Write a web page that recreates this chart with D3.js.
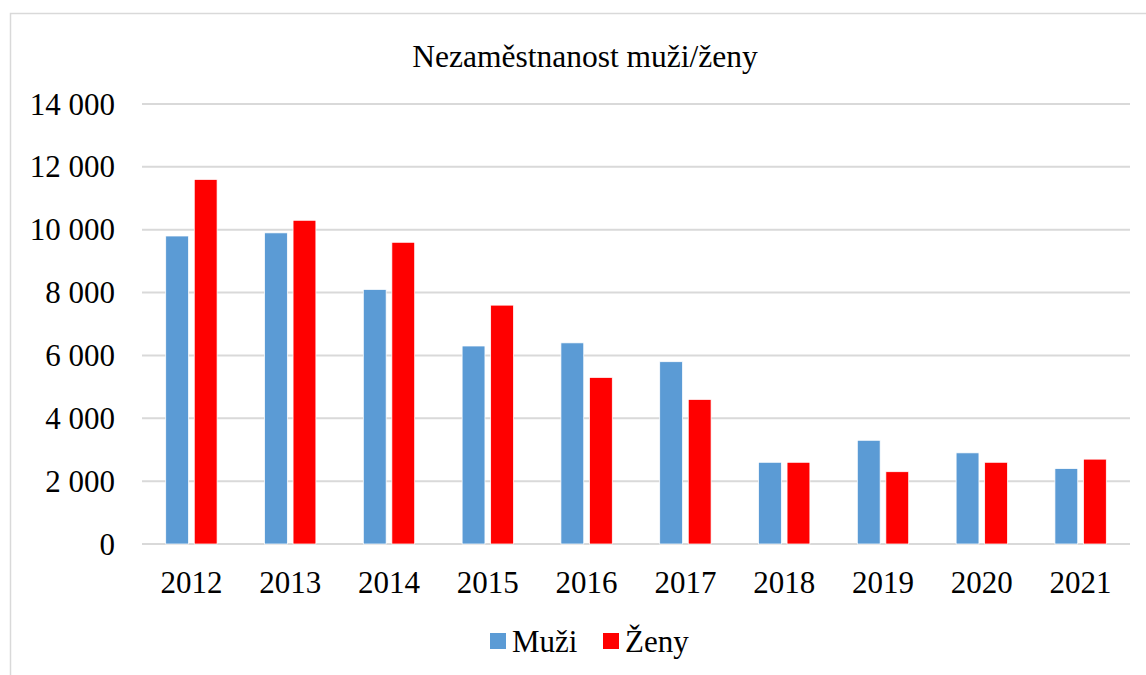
<!DOCTYPE html>
<html>
<head>
<meta charset="utf-8">
<script src="https://cdn.jsdelivr.net/npm/d3@7"></script>
<style>
  body { margin: 0; background: #fff; }
  svg text { font-family: "Liberation Serif", "Times New Roman", serif; fill: #000; }
</style>
</head>
<body>
<div id="chart"></div>
<script>
var years = ["2012", "2013", "2014", "2015", "2016", "2017", "2018", "2019", "2020", "2021"],
    muzi = [9800, 9900, 8100, 6300, 6400, 5800, 2600, 3300, 2900, 2400],
    zeny = [11600, 10300, 9600, 7600, 5300, 4600, 2600, 2300, 2600, 2700],
    seriesNames = ["Muži", "Ženy"],
    seriesColors = ["#5B9BD5", "#FF0000"],
    yTicks = [0, 2000, 4000, 6000, 8000, 10000, 12000, 14000];

var W = 1146, H = 675;
var plot = { left: 142, right: 1130, top: 104, bottom: 544 };

var svg = d3.select("#chart").append("svg")
    .attr("width", W)
    .attr("height", H);

// chart frame
svg.append("rect")
    .attr("x", 10.5).attr("y", 13.5)
    .attr("width", W + 10).attr("height", H + 10)
    .attr("fill", "#fff")
    .attr("stroke", "#d9d9d9")
    .attr("stroke-width", 1.5);

var y = d3.scaleLinear().domain([0, 14000]).range([plot.bottom, plot.top]);

var x0 = d3.scaleBand().domain(years)
    .range([plot.left, plot.right])
    .paddingInner(0.48).paddingOuter(0.24);

var x1 = d3.scaleBand().domain(seriesNames)
    .range([0, x0.bandwidth()])
    .paddingInner(0.2);

// czech style thousands: "14 000"
var fmt = d3.formatLocale({ decimal: ",", thousands: " ", grouping: [3], currency: ["", " Kč"] }).format(",d");

// gridlines
svg.append("g").selectAll("line")
    .data(yTicks)
    .enter().append("line")
      .attr("x1", plot.left).attr("x2", plot.right)
      .attr("y1", function(d) { return y(d); })
      .attr("y2", function(d) { return y(d); })
      .attr("stroke", "#d9d9d9")
      .attr("stroke-width", 2);

// y labels
svg.append("g").selectAll("text")
    .data(yTicks)
    .enter().append("text")
      .attr("x", 115)
      .attr("y", function(d) { return y(d); })
      .attr("dy", "0.34em")
      .style("text-anchor", "end")
      .style("font-size", "31px")
      .text(function(d) { return fmt(d); });

// bars
var rows = years.map(function(yr, i) { return { year: yr, vals: [muzi[i], zeny[i]] }; });

var groups = svg.append("g").selectAll("g")
    .data(rows)
    .enter().append("g")
      .attr("transform", function(d) { return "translate(" + x0(d.year) + ",0)"; });

groups.selectAll("rect")
    .data(function(d) { return d.vals.map(function(v, j) { return { name: seriesNames[j], value: v, color: seriesColors[j] }; }); })
    .enter().append("rect")
      .attr("x", function(d) { return x1(d.name); })
      .attr("y", function(d) { return y(d.value); })
      .attr("width", x1.bandwidth())
      .attr("height", function(d) { return y(0) - y(d.value); })
      .attr("fill", function(d) { return d.color; })
      .attr("stroke", "#fff")
      .attr("stroke-width", 0.75);

// x labels
svg.append("g").selectAll("text")
    .data(years)
    .enter().append("text")
      .attr("x", function(d) { return x0(d) + x0.bandwidth() / 2; })
      .attr("y", 593)
      .style("text-anchor", "middle")
      .style("font-size", "31px")
      .text(function(d) { return d; });

// title
svg.append("text")
    .attr("x", 585).attr("y", 67)
    .style("text-anchor", "middle")
    .style("font-size", "31.5px")
    .text("Nezaměstnanost muži/ženy");

// legend
var legendX = [490, 603];
var legend = svg.append("g").selectAll("g")
    .data(seriesNames)
    .enter().append("g")
      .attr("transform", function(d, i) { return "translate(" + legendX[i] + ",633)"; });

legend.append("rect")
    .attr("width", 16).attr("height", 16)
    .attr("fill", function(d, i) { return seriesColors[i]; });

legend.append("text")
    .attr("x", 22).attr("y", 19)
    .style("font-size", "31px")
    .text(function(d) { return d; });
</script>
</body>
</html>
